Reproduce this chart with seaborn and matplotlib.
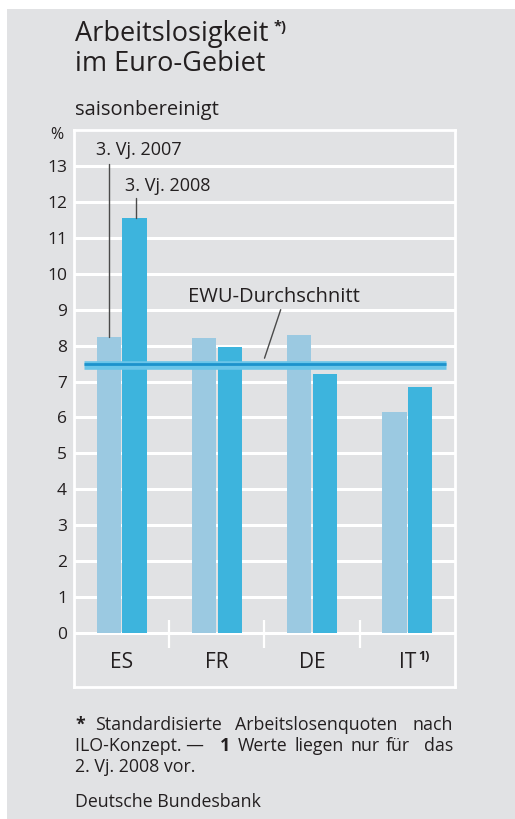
import numpy as np
import pandas as pd
import matplotlib.pyplot as plt
import seaborn as sns
from matplotlib.patches import Rectangle

# data
laender = ['ES', 'FR', 'DE', 'IT']
quartale = ['3. Vj. 2007', '3. Vj. 2008']
werte_2007 = [8.25, 8.2, 8.3, 6.15]
werte_2008 = [11.55, 7.95, 7.2, 6.85]
ewu_schnitt = 7.45
yticks = list(range(0, 14))

df = pd.DataFrame({
    'Land': laender * 2,
    'Quartal': [quartale[0]] * 4 + [quartale[1]] * 4,
    'Quote': werte_2007 + werte_2008,
})

sns.set_style('white')
plt.rcParams['font.family'] = ['Open Sans', 'DejaVu Sans']
txt = '#231f20'
grau = '#e1e2e4'

fig = plt.figure(figsize=(5.15, 8.19), dpi=100)
fig.patch.set_facecolor('white')
fig.patches.append(Rectangle((7 / 515, 0), 1, 1 - 9 / 819, transform=fig.transFigure,
                             facecolor=grau, edgecolor='none', zorder=-5))

ax = fig.add_axes([74 / 515, 1 - 687 / 819, 381 / 515, 557 / 819])
ax.set_zorder(2)
ax.set_facecolor(grau)

sns.barplot(data=df, x='Land', y='Quote', hue='Quartal', order=laender, hue_order=quartale,
            palette=['#9bc9e1', '#3db4dd'], width=0.54, gap=0.06, saturation=1,
            edgecolor='none', linewidth=0, legend=False, ax=ax, zorder=3)

ax.set_xlim(-0.5, 3.5)
ax.set_ylim(-1.5, 14)
ax.set_yticks(yticks)
ax.set_yticklabels([str(t) for t in yticks], fontsize=12.5, color=txt)
ax.tick_params(axis='y', length=0, pad=5)
ax.set_xticks([])
ax.set_xlabel('')
ax.set_ylabel('')
ax.yaxis.grid(True, color='white', linewidth=2.2, zorder=1)
ax.set_axisbelow(True)
for s in ax.spines.values():
    s.set_color('white')
    s.set_linewidth(2)

# separators between countries
for xs in [0.5, 1.5, 2.5]:
    ax.plot([xs, xs], [-0.42, 0.36], color='white', lw=1.6, zorder=2, solid_capstyle='butt')

# country labels
for i, land in enumerate(laender):
    ax.text(i, -0.83, land, ha='center', va='center', fontsize=15, color=txt)
ax.text(3.11, -0.66, '1)', ha='left', va='center', fontsize=9, fontweight='bold', color=txt)

# EWU average line
ax.plot([-0.395, 3.405], [ewu_schnitt, ewu_schnitt], color='#69c5e9', lw=6.2,
        solid_capstyle='butt', zorder=5)
ax.plot([-0.395, 3.405], [ewu_schnitt + 0.05, ewu_schnitt + 0.05], color='#1c92cc', lw=2,
        solid_capstyle='butt', zorder=6)

# annotations
lc = '#4a4a4a'
ax.plot([-0.135, -0.135], [werte_2007[0], 13.05], color=lc, lw=1, zorder=4)
ax.text(-0.265, 13.45, quartale[0], ha='left', va='center', fontsize=13, color=txt)
ax.plot([0.15, 0.15], [werte_2008[0], 12.1], color=lc, lw=1, zorder=4)
ax.text(0.035, 12.45, quartale[1], ha='left', va='center', fontsize=13, color=txt)
ax.plot([1.67, 1.5], [9.0, ewu_schnitt + 0.2], color=lc, lw=1, zorder=4)
ax.text(0.7, 9.35, 'EWU-Durchschnitt', ha='left', va='center', fontsize=14.5, color=txt)

# titles and notes
W, H = 515, 819
def ft(x, y, s, **kw):
    kw.setdefault('color', txt)
    kw.setdefault('va', 'center')
    fig.text(x / W, 1 - y / H, s, **kw)

ft(75, 34, 'Arbeitslosigkeit', fontsize=19.5)
ft(274, 27, '*)', fontsize=10.5, fontweight='bold')
ft(75, 64, 'im Euro-Gebiet', fontsize=19.5)
ft(75, 110, 'saisonbereinigt', fontsize=14.5)
ft(57, 135, '%', fontsize=11.5, ha='center')

fs = 12.8
ft(75, 725, '*', fontsize=fs, fontweight='bold')
ft(95, 725, 'Standardisierte', fontsize=fs)
ft(235, 725, 'Arbeitslosenquoten', fontsize=fs)
ft(453, 725, 'nach', fontsize=fs, ha='right')
ft(75, 746, 'ILO-Konzept. —', fontsize=fs)
ft(220, 746, '1', fontsize=fs, fontweight='bold')
ft(238, 746, 'Werte', fontsize=fs)
ft(295, 746, 'liegen', fontsize=fs)
ft(350, 746, 'nur', fontsize=fs)
ft(386, 746, 'für', fontsize=fs)
ft(453, 746, 'das', fontsize=fs, ha='right')
ft(75, 767, '2. Vj. 2008 vor.', fontsize=fs)
ft(75, 802, 'Deutsche Bundesbank', fontsize=fs)

fig.savefig('out.png', dpi=100, facecolor=fig.get_facecolor())
